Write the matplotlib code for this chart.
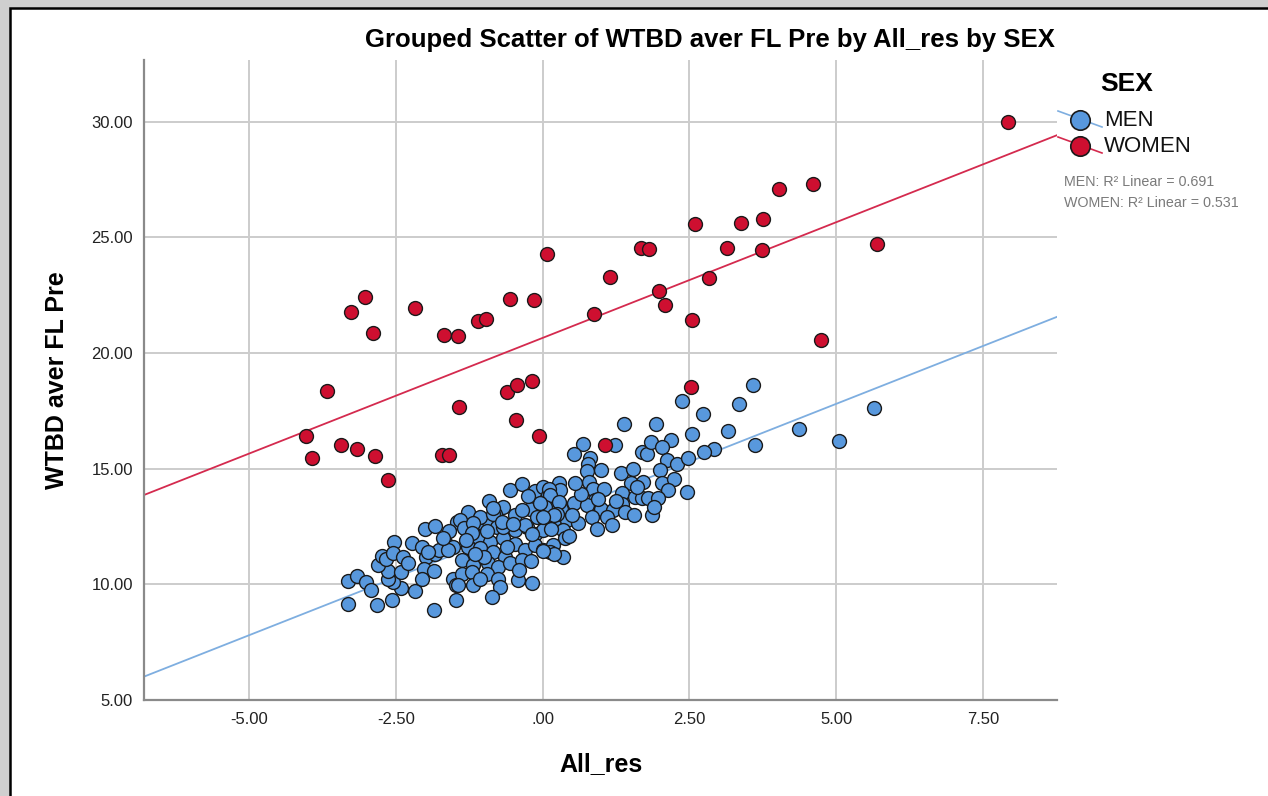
import matplotlib
matplotlib.use("Agg")
import matplotlib.pyplot as plt
from matplotlib.lines import Line2D
from matplotlib.patches import Rectangle
from matplotlib.ticker import FuncFormatter
import numpy as np

plt.rcParams['font.family'] = ['Liberation Sans', 'DejaVu Sans']

# ---------------- data ----------------
women_x = [7.93, 4.61, 4.03, 2.60, 3.38, 3.76, 1.675, 1.81, 3.14, 3.73, 5.69, 1.14, 2.84,
           1.98, 2.08, 2.54, 4.74, 2.53, 1.06, 0.08, -3.02, -3.26, -2.89, -2.17, -1.68,
           -1.44, -1.10, -0.97, -0.56, -0.14, 0.87, -3.68, -1.43, -0.61, -0.44, -0.18,
           -0.45, -0.07, -4.03, -3.43, -3.17, -3.93, -2.86, -1.72, -1.59, -2.64]
women_y = [30.00, 27.28, 27.10, 25.58, 25.61, 25.78, 24.54, 24.48, 24.53, 24.46, 24.70, 23.30, 23.22,
           22.67, 22.09, 21.42, 20.55, 18.52, 16.00, 24.26, 22.40, 21.75, 20.88, 21.95, 20.78,
           20.72, 21.36, 21.45, 22.34, 22.29, 21.69, 18.36, 17.65, 18.29, 18.62, 18.79,
           17.12, 16.41, 16.39, 16.04, 15.85, 15.48, 15.54, 15.61, 15.61, 14.50]

men_x = [-3.32, -3.17, -3.01, -2.93, -3.31, -2.82, -2.56, -2.18, -1.85, -2.42, -2.55, -2.64,
         -2.63, -2.42, -2.80, -2.73, -2.66, -2.53, -2.55, -2.38, -2.22, -2.05, -2.01, -1.84,
         -1.99, -2.02, -2.05, -1.85, -1.84, -1.66, -1.52, -1.76, -1.46, -1.52, -1.47, -1.47, -1.61,
         -0.56, -0.36, -0.91, -1.27, -0.13, 0.01, 0.09, -0.67, -0.47, -0.81, -0.22, -0.10, 0.04,
         -1.41, -1.34, -1.07, -0.93, -0.78, -1.10, -0.90, -0.67, -0.47, -0.27, -0.13, 0.01,
         -1.27, -1.07, -0.84, -0.64, -0.47, -0.30, -0.13, 0.01, -1.38, -1.18, -0.93, -0.76,
         -0.56, -0.36, -1.38, -1.21, -0.95, -0.76, -1.44, -1.18, -1.07, -0.73, -0.42, -0.18, -0.87,
         1.39, 0.69, 1.24, 0.54, 0.81, 0.78, 0.76, 0.99, 1.69, 1.77, 1.85, 1.33, 1.54, 0.79,
         0.85, 0.27, 0.29, 0.10, 1.50, 1.71, 1.35, 1.57, 1.69, 1.80, 1.35, 0.89, 0.54, 0.75,
         0.99, 1.20, 1.40, 1.56, 1.86, 0.12, 0.32, 0.21, 0.41, 0.61, 0.84, 1.09, 1.18, 0.92,
         0.35, 0.15, 0.38, 0.18, 0.12, 0.35, 0.20, 0.12, 0.27,
         2.38, 2.73, 3.59, 3.35, 3.15, 2.55, 3.62, 2.91, 2.74, 1.93, 2.18, 2.03, 2.11, 2.29,
         2.48, 2.00, 2.03, 2.23, 2.14, 2.46, 1.97, 4.37, 5.05, 5.65, 1.89,
         -1.07, -0.84, -1.18, -0.67, -0.30, 0.24, -0.19, 0.04, 0.01,
         -1.20, -0.95, -0.70, -0.50, -0.35, -0.05, 0.20, 0.50, -1.00, -0.60, -0.20, 0.45,
         -1.60, -1.30, -0.85, -0.25, 0.65, 1.05, 1.25, 0.00, -2.30, -1.95, -1.70, 0.55,
         0.95, 1.60, -0.40, -1.15]
men_y = [10.13, 10.35, 10.12, 9.74, 9.17, 9.12, 9.34, 9.70, 8.91, 9.84, 10.10, 10.21,
         10.58, 10.53, 10.85, 11.21, 11.11, 11.85, 11.36, 11.18, 11.79, 11.61, 12.37, 12.54,
         11.18, 10.65, 10.25, 10.56, 11.33, 11.85, 11.61, 11.47, 12.70, 10.25, 9.96, 9.34, 11.47,
         14.07, 14.33, 13.59, 13.13, 14.04, 14.21, 13.85, 13.34, 12.99, 13.03, 13.27, 12.89, 12.77,
         12.77, 12.45, 12.70, 12.77, 12.48, 12.05, 11.83, 11.98, 12.34, 12.48, 12.19, 12.34,
         11.61, 11.55, 11.40, 11.18, 11.76, 11.47, 11.69, 11.47, 11.04, 10.82, 10.90, 10.75,
         10.90, 11.04, 10.46, 10.53, 10.46, 10.25, 9.96, 9.96, 10.25, 9.89, 10.18, 10.06, 9.43,
         16.92, 16.06, 16.01, 15.62, 15.48, 15.22, 14.90, 14.93, 15.72, 15.65, 16.15, 14.83, 15.00, 14.43,
         14.10, 14.36, 14.07, 14.14, 14.36, 14.43, 13.95, 13.78, 13.75, 13.75, 13.49, 13.66, 13.52, 13.42,
         13.27, 13.20, 13.13, 12.99, 12.99, 13.34, 13.27, 12.84, 12.77, 12.63, 12.91, 12.91, 12.55, 12.37,
         12.34, 12.41, 11.98, 11.69, 11.40, 11.18, 11.33, 13.85, 13.56,
         17.91, 17.35, 18.60, 17.81, 16.63, 16.49, 16.01, 15.85, 15.72, 16.91, 16.23, 15.94, 15.39, 15.19,
         15.44, 14.96, 14.36, 14.53, 14.07, 13.99, 13.71, 16.73, 16.18, 17.60, 13.34,
         12.91, 13.06, 12.63, 12.48, 12.55, 13.06, 12.19, 13.34, 11.43,
         12.20, 12.30, 12.70, 12.60, 13.20, 13.50, 13.00, 13.00, 11.20, 11.60, 11.00, 12.10,
         12.30, 11.90, 13.30, 13.80, 13.90, 14.10, 13.60, 12.90, 10.90, 11.40, 12.00, 14.40,
         13.70, 14.20, 10.60, 11.30]

# fit lines: [intercept, slope]
men_fit = [12.80, 1.00]
women_fit = [20.65, 1.00]
r2_labels = ["MEN: R\u00b2 Linear = 0.691", "WOMEN: R\u00b2 Linear = 0.531"]
groups = ["MEN", "WOMEN"]

x_ticks = [-5.0, -2.5, 0.0, 2.5, 5.0, 7.5]
y_ticks = [5.0, 10.0, 15.0, 20.0, 25.0, 30.0]

# ---------------- style ----------------
blue = '#5898DD'
red = '#CE0F30'
blue_line = '#7EAEE0'
red_line = '#D42A4E'

W, H = 1268, 796
fig = plt.figure(figsize=(W / 100, H / 100), dpi=100)
fig.patch.set_facecolor('#cfcfcf')
fig.add_artist(Rectangle((10 / W, -0.01), 1.02, 1 - 8 / H + 0.01, transform=fig.transFigure,
                         facecolor='white', edgecolor='black', linewidth=1.8, zorder=0))

def fx(px):
    return px / W

def fy(py):
    return 1 - py / H

ax = fig.add_axes([fx(144), fy(700), fx(1057) - fx(144), fy(60) - fy(700)])
ax.set_facecolor('white')
ax.set_xlim(-6.79, 8.76)
ax.set_ylim(5.0, 32.66)

ax.set_xticks(x_ticks)
ax.set_yticks(y_ticks)

def fmt(v, pos):
    s = '{:.2f}'.format(v)
    if s.startswith('0.'):
        s = s[1:]
    if s == '-0.00':
        s = '.00'
    return s

ax.xaxis.set_major_formatter(FuncFormatter(fmt))
ax.yaxis.set_major_formatter(FuncFormatter(fmt))
ax.tick_params(axis='both', length=0, labelsize=12, colors='#222222')
ax.tick_params(axis='x', pad=9)
ax.tick_params(axis='y', pad=8)

ax.grid(True, color='#cccccc', linewidth=1.4)
ax.set_axisbelow(True)
for s in ['top', 'right']:
    ax.spines[s].set_visible(False)
for s in ['left', 'bottom']:
    ax.spines[s].set_color('#8a8a8a')
    ax.spines[s].set_linewidth(1.6)

xs = np.array(ax.get_xlim())
ax.plot(xs, men_fit[0] + men_fit[1] * xs, color=blue_line, linewidth=1.3, zorder=2)
ax.plot(xs, women_fit[0] + women_fit[1] * xs, color=red_line, linewidth=1.3, zorder=2)

ax.scatter(men_x, men_y, s=100, c=blue, edgecolors='#1a1a1a', linewidths=1.0, zorder=3)
ax.scatter(women_x, women_y, s=100, c=red, edgecolors='#1a1a1a', linewidths=1.0, zorder=4)

ax.set_xlabel('All_res', fontsize=18, fontweight='bold', labelpad=18)
ax.set_ylabel('WTBD aver FL Pre', fontsize=18, fontweight='bold', labelpad=16)
fig.text(fx(710), fy(40), 'Grouped Scatter of WTBD aver FL Pre by All_res by SEX',
         fontsize=18.5, fontweight='bold', ha='center', va='center')

# legend
fig.text(fx(1127), fy(84), 'SEX', fontsize=19, fontweight='bold', ha='center', va='center')
for i, (g, fc, lc) in enumerate(zip(groups, [blue, red], [blue_line, red_line])):
    cy = 120 + 26 * i
    fig.add_artist(Line2D([fx(1058), fx(1102)], [fy(cy - 9), fy(cy + 7)], transform=fig.transFigure,
                          color=lc, linewidth=1.2))
    fig.add_artist(Line2D([fx(1080)], [fy(cy)], transform=fig.transFigure, marker='o',
                          markersize=14, markerfacecolor=fc, markeredgecolor='#1a1a1a',
                          markeredgewidth=1.2, linestyle='none'))
    fig.text(fx(1104), fy(cy + 1), g, fontsize=16, ha='left', va='center', color='#111111')

for i, t in enumerate(r2_labels):
    fig.text(fx(1064), fy(182 + 21 * i), t, fontsize=10.3, ha='left', va='center', color='#7a7a7a')

fig.savefig('out.png', dpi=100, facecolor=fig.get_facecolor())
